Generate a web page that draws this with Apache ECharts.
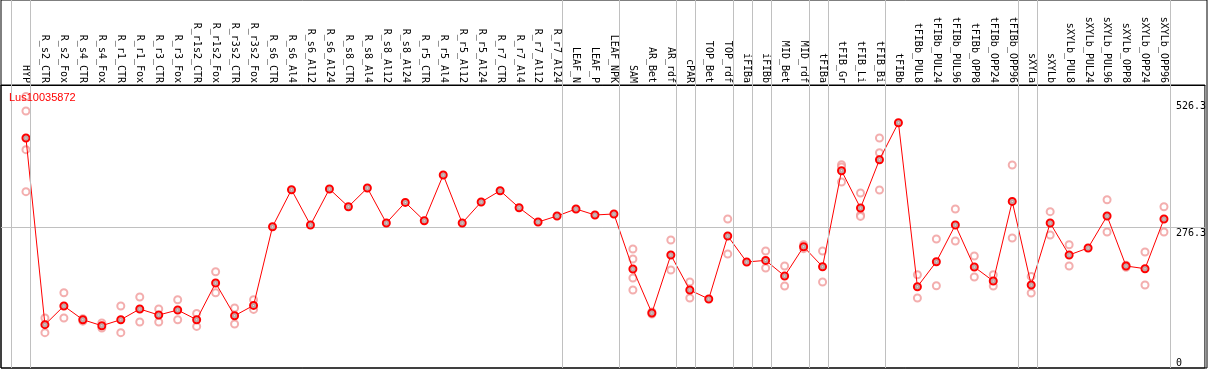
<!DOCTYPE html>
<html>
<head>
<meta charset="utf-8">
<script src="https://cdn.jsdelivr.net/npm/echarts@6/dist/echarts.min.js"></script>
<style>html,body{margin:0;padding:0;background:#fff}#c{width:1209px;height:370px}</style>
</head>
<body>
<div id="c"></div>
<script>
const chartTitle = 'Lus10035872';
const categories = ['HYP','R_s2_CTR','R_s2_Fox','R_s4_CTR','R_s4_Fox','R_r1_CTR','R_r1_Fox','R_r3_CTR','R_r3_Fox','R_r1s2_CTR','R_r1s2_Fox','R_r3s2_CTR','R_r3s2_Fox','R_s6_CTR','R_s6_Al4','R_s6_Al12','R_s6_Al24','R_s8_CTR','R_s8_Al4','R_s8_Al12','R_s8_Al24','R_r5_CTR','R_r5_Al4','R_r5_Al12','R_r5_Al24','R_r7_CTR','R_r7_Al4','R_r7_Al12','R_r7_Al24','LEAF_N','LEAF_P','LEAF_NPK','SAM','AR_Bet','AR_rdf','cPAR','TOP_Bet','TOP_rdf','iFIBa','iFIBb','MID_Bet','MID_rdf','tFIBa','tFIB_Gr','tFIB_Li','tFIB_Bi','tFIBb','tFIBb_PUL8','tFIBb_PUL24','tFIBb_PUL96','tFIBb_OPP8','tFIBb_OPP24','tFIBb_OPP96','sXYLa','sXYLb','sXYLb_PUL8','sXYLb_PUL24','sXYLb_PUL96','sXYLb_OPP8','sXYLb_OPP24','sXYLb_OPP96'];
const meanValues = [451.9,85.1,121.8,94.9,83.1,94.9,115.9,104.1,113.9,94.9,167,102.7,123,277.6,350.3,280.9,351.7,316.9,353.6,284.9,325.3,289.4,379.2,284.9,326.1,348.3,314.9,286.8,298.6,312.4,300.6,302.6,194.5,108.1,222,153.2,135.6,259.3,208.3,211.4,180.7,238.3,199,387.6,314.3,409.2,481.9,159.7,208.8,280.9,198.4,170.9,327.3,163,284.9,222,235.8,298.6,200.4,195.1,292.7];
const replicates = [
  [533.6,504.9,428.9,346.4],[98.2,69.4],[147.9,98.2],[97,92],[88.4,78.6],[121.8,69.4],[139.5,90.4],[115.9,90.4],[134.2,94.9],[107.3,81.7],[189.2,147.9],[117.9,86.4],[134.2,115.1],
  [],[],[],[],[],[],[],[],[],[],[],[],[],[],[],[],[],[],[],
  [233.8,214.1,176.8,153.2],[110,106],[251.5,192.5],[169,137.5],[],[292.7,224],[],[229.9,196.5],[200.4,161.1],[242.2,234.4],[229.9,169],[399.4,394.9,365.4],[343.8,300.6,297.8],[451.9,423,349.7],[],
  [183.3,137.5],[253.4,161.7],[312.4,249.5],[220,178.8],[183.3,161.1],[398.8,255.4],
  [180,147.3],[307.1,261.3],[242.2,200.4],[],[330.6,267.2],[202,198],[227.9,163],[316.9,267.2]
];
const yTickLabels = [0, 276.3, 526.3];
const referenceLineValue = 276.3;
const groupEndIndices = [-1,0,28,31,34,35,37,38,39,41,42,45,52,53,60];

const X_MIN = -1.316, X_MAX = 62.158, Y_MAX = 556;
const mono = '"DejaVu Sans Mono", monospace';

const meanData = meanValues.map((v, i) => [i, v]);
const repData = [];
replicates.forEach((arr, i) => arr.forEach(v => repData.push([i, v])));
const sepLines = groupEndIndices.map(g => ({ xAxis: g + 0.24 }));

const chart = echarts.init(document.getElementById('c'), null, { renderer: 'canvas' });
chart.setOption({
  animation: false,
  backgroundColor: '#fff',
  title: {
    text: chartTitle, left: 9, top: 92, padding: 0,
    textStyle: { color: '#ff0000', fontSize: 11, fontWeight: 'normal', fontFamily: '"Liberation Sans", Arial, sans-serif' }
  },
  grid: [
    { left: 1, right: 2, top: 85, bottom: 2, show: true, borderColor: '#000', borderWidth: 1, backgroundColor: 'transparent' },
    { left: 1, right: 2, top: 0, bottom: 2, show: true, borderColor: '#000', borderWidth: 1, backgroundColor: 'transparent' }
  ],
  xAxis: [
    {
      type: 'value', gridIndex: 0, position: 'top', min: X_MIN, max: X_MAX,
      axisLine: { show: true, onZero: false, lineStyle: { color: '#000', width: 1 } },
      axisTick: { show: false }, splitLine: { show: false },
      axisLabel: {
        customValues: categories.map((c, i) => i), rotate: 90, margin: 2,
        fontSize: 10, fontFamily: mono, color: '#000',
        formatter: v => categories[Math.round(v)] || ''
      }
    },
    { type: 'value', gridIndex: 1, min: X_MIN, max: X_MAX, show: false }
  ],
  yAxis: [
    {
      type: 'value', gridIndex: 0, min: 0, max: Y_MAX, position: 'right', offset: -30,
      axisLine: { show: false }, axisTick: { show: false }, splitLine: { show: false },
      axisLabel: {
        customValues: yTickLabels, margin: 1, fontSize: 10, fontFamily: mono, color: '#000',
        verticalAlign: 'top', verticalAlignMinLabel: 'bottom', align: 'left',
        padding: [1, 0, 0, 0],
        formatter: v => String(v)
      }
    },
    { type: 'value', gridIndex: 1, min: 0, max: 1, show: false }
  ],
  series: [
    {
      type: 'line', xAxisIndex: 1, yAxisIndex: 1, data: [[-100, -100]], symbol: 'none', silent: true, z: 1,
      markLine: {
        silent: true, symbol: 'none', animation: false,
        lineStyle: { color: '#c0c0c0', width: 1, type: 'solid' },
        label: { show: false }, emphasis: { disabled: true },
        data: sepLines
      }
    },
    {
      type: 'scatter', xAxisIndex: 0, yAxisIndex: 0, data: repData, z: 3,
      symbol: 'emptyCircle', symbolSize: 7,
      itemStyle: { color: '#f09a9a', borderColor: '#f09a9a', borderWidth: 1.2 }
    },
    {
      type: 'line', xAxisIndex: 0, yAxisIndex: 0, data: meanData, z: 4,
      symbol: 'emptyCircle', symbolSize: 7, showAllSymbol: true,
      lineStyle: { color: '#ff0000', width: 1 },
      itemStyle: { color: '#ff0000', borderColor: '#ff0000', borderWidth: 1.5 },
      markLine: {
        silent: true, symbol: 'none', animation: false, z: 1,
        lineStyle: { color: '#c0c0c0', width: 1, type: 'solid' },
        label: { show: false }, emphasis: { disabled: true },
        data: [{ yAxis: referenceLineValue }]
      }
    },
    {
      type: 'scatter', xAxisIndex: 0, yAxisIndex: 0, data: meanData, z: 5, silent: true,
      symbol: 'emptyCircle', symbolSize: 3,
      itemStyle: { color: '#400', borderColor: '#400', borderWidth: 0.6, opacity: 0.35 }
    }
  ]
});
</script>
</body>
</html>
